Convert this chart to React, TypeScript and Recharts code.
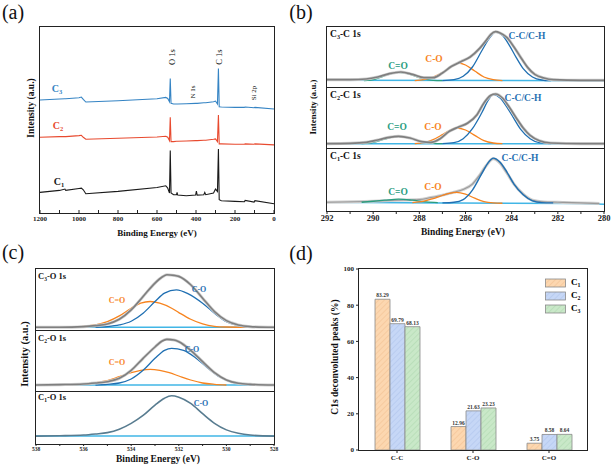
import React from 'react';
import { LineChart, Line, XAxis, YAxis, BarChart, Bar, LabelList, Legend } from 'recharts';

const FONT = '"Liberation Serif", "Times New Roman", serif';

type Pt = [number, number];

// ---- (a) survey spectra ----
const survE = [1200, 1100, 1072, 1068, 1000, 988, 978, 965, 800, 600, 555, 545, 536, 532, 528, 515, 500, 497, 494, 450, 402, 398, 394, 360, 355, 350, 310, 300, 290, 285, 281, 270, 200, 152, 148, 102, 98, 0];
const survC3 = [340, 343, 344, 344, 347, 349, 342, 334, 338, 344, 348, 345, 335, 405, 330, 328, 328, 328, 328, 329, 330, 330, 330, 332, 332, 332, 335, 337, 328, 435, 320, 319, 318, 318, 319, 317, 318, 313];
const survC2 = [228, 230, 230, 230, 233, 234, 228, 222, 225, 229, 231, 228, 218, 288, 215, 215, 216, 216, 216, 217, 218, 218, 218, 219, 219, 219, 222, 223, 215, 295, 208, 208, 207, 207, 208, 207, 208, 205];
const survC1 = [62, 68, 72, 68, 74, 75, 70, 58, 65, 77, 82, 75, 60, 188, 60, 55, 55, 62, 54, 52, 54, 66, 54, 55, 62, 55, 60, 72, 65, 193, 40, 37, 35, 34, 38, 33, 37, 28];
const survTicks = [0, 100, 200, 300, 400, 500, 600, 700, 800, 900, 1000, 1100, 1200];

// ---- (b) C 1s ----
const bTicks = [280, 281, 282, 283, 284, 285, 286, 287, 288, 289, 290, 291, 292];

const bC3Base: Pt[] = [[292, 20], [280, 19]];
const bC3Env: Pt[] = [[292, 22], [291, 22], [290.3, 24], [289.8, 30], [289.3, 40], [288.8, 45], [288.3, 38], [287.8, 28], [287.4, 28], [287, 42], [286.6, 62], [286.2, 76], [285.8, 90], [285.4, 115], [285.1, 140], [284.9, 158], [284.7, 166], [284.5, 162], [284.2, 148], [283.9, 120], [283.6, 88], [283.3, 58], [283, 38], [282.6, 27], [282.2, 22], [281, 20], [280, 20]];
const bC3CC: Pt[] = [[287, 19], [286.5, 22], [286.1, 32], [285.7, 60], [285.3, 108], [285, 143], [284.7, 165], [284.4, 155], [284.1, 125], [283.8, 88], [283.5, 55], [283.1, 30], [282.7, 21], [282.3, 19]];
const bC3CO: Pt[] = [[288.2, 19], [287.8, 22], [287.4, 30], [287, 43], [286.6, 62], [286.3, 72], [286, 66], [285.6, 48], [285.2, 30], [284.8, 22], [284.4, 19]];
const bC3CdO: Pt[] = [[290.4, 19], [289.9, 24], [289.4, 36], [288.9, 44], [288.4, 38], [287.9, 26], [287.4, 20], [287, 19]];

const bC2Base: Pt[] = [[292, 13], [280, 13]];
const bC2Env: Pt[] = [[292, 13], [291, 14], [290.3, 17], [289.8, 24], [289.3, 32], [288.9, 35], [288.4, 30], [287.9, 19], [287.5, 17], [287.1, 28], [286.7, 50], [286.3, 63], [285.9, 75], [285.5, 100], [285.2, 135], [284.9, 158], [284.7, 162], [284.4, 150], [284.1, 122], [283.8, 90], [283.5, 60], [283.2, 38], [282.8, 22], [282.3, 15], [281, 13], [280, 13]];
const bC2CC: Pt[] = [[287, 13], [286.5, 16], [286.1, 28], [285.7, 58], [285.3, 105], [285, 145], [284.8, 160], [284.5, 150], [284.2, 122], [283.9, 88], [283.6, 55], [283.2, 28], [282.8, 16], [282.3, 13]];
const bC2CO: Pt[] = [[288.2, 13], [287.8, 16], [287.4, 25], [287, 40], [286.7, 52], [286.4, 60], [286, 54], [285.6, 38], [285.2, 22], [284.8, 15], [284.4, 13]];
const bC2CdO: Pt[] = [[290.5, 13], [290, 17], [289.5, 27], [288.9, 35], [288.4, 29], [287.9, 19], [287.4, 14], [287, 13]];

const bC1Base: Pt[] = [[292, 26], [287, 24], [281, 22], [280, 20]];
const bC1Env: Pt[] = [[292, 26], [290, 29], [289, 32], [288, 34], [287.5, 40], [287, 47], [286.5, 56], [286.1, 64], [285.7, 80], [285.4, 105], [285.1, 135], [284.8, 155], [284.5, 142], [284.2, 112], [283.9, 80], [283.5, 50], [283.1, 32], [282.6, 27], [282, 26], [281, 24], [280.2, 22]];
const bC1CC: Pt[] = [[287, 24], [286.5, 26], [286.1, 34], [285.7, 62], [285.3, 110], [285, 145], [284.8, 157], [284.5, 145], [284.2, 115], [283.9, 80], [283.5, 48], [283.1, 30], [282.7, 25], [282.2, 24]];
const bC1CO: Pt[] = [[288.3, 25], [287.8, 29], [287.4, 37], [287, 46], [286.7, 52], [286.4, 55], [286, 50], [285.6, 38], [285.2, 28], [284.8, 24], [284.4, 23]];
const bC1CdO: Pt[] = [[290.5, 26], [290, 29], [289.5, 32], [288.9, 35], [288.3, 32], [287.7, 27], [287.2, 25]];

// ---- (c) O 1s ----
const cTicks = [528, 529, 530, 531, 532, 533, 534, 535, 536, 537, 538];

const cC3Base: Pt[] = [[538, 8], [528, 8]];
const cC3Env: Pt[] = [[538, 8], [537, 8], [536, 10], [535.5, 13], [535, 18], [534.5, 32], [534, 60], [533.5, 100], [533, 140], [532.7, 158], [532.5, 165], [532.2, 163], [532, 160], [531.5, 135], [531, 95], [530.5, 55], [530, 28], [529.5, 15], [529, 10], [528, 8]];
const cC3CO: Pt[] = [[535.5, 8], [535, 10], [534.5, 15], [534, 26], [533.5, 50], [533, 85], [532.6, 110], [532.1, 120], [531.6, 108], [531, 80], [530.5, 50], [530, 25], [529.5, 13], [529, 9], [528, 8]];
const cC3CdO: Pt[] = [[537, 8], [536.5, 9], [536, 11], [535.5, 15], [535, 25], [534.5, 42], [534, 65], [533.6, 80], [533.2, 85], [532.8, 80], [532.3, 65], [532, 52], [531.5, 32], [531, 18], [530.5, 11], [530, 9], [529, 8]];

const cC2Base: Pt[] = [[538, 18], [528, 18]];
const cC2Env: Pt[] = [[538, 18], [537, 19], [536, 21], [535.5, 24], [535, 28], [534.5, 38], [534, 62], [533.5, 98], [533, 132], [532.7, 150], [532.5, 155], [532.2, 153], [532, 148], [531.5, 122], [531, 88], [530.5, 55], [530, 33], [529.5, 23], [529, 20], [528, 18]];
const cC2CO: Pt[] = [[535.5, 18], [535, 20], [534.5, 24], [534, 36], [533.5, 62], [533, 98], [532.6, 122], [532.3, 128], [531.8, 122], [531.3, 100], [530.8, 70], [530.3, 43], [529.8, 27], [529.3, 20], [528.5, 18]];
const cC2CdO: Pt[] = [[537, 18], [536.5, 19], [536, 21], [535.5, 25], [535, 31], [534.5, 43], [534, 55], [533.6, 62], [533.2, 65], [532.8, 62], [532.4, 55], [532, 45], [531.5, 33], [531, 24], [530.5, 20], [530, 18]];

const cC1Base: Pt[] = [[538, 23], [528, 23]];
const cC1CO: Pt[] = [[538, 23], [537, 24], [536, 26], [535.5, 29], [535, 33], [534.5, 43], [534, 60], [533.5, 83], [533, 113], [532.6, 133], [532.3, 140], [532, 136], [531.5, 118], [531, 88], [530.5, 60], [530, 41], [529.5, 31], [529, 26], [528, 23]];

// ---- (d) C1s deconvoluted peaks ----
const peakCats = ['C-C', 'C-O', 'C=O'];
const pctC1 = [83.29, 12.96, 3.75];
const pctC2 = [69.79, 21.63, 8.58];
const pctC3 = [68.13, 23.23, 8.64];
const pctTicks = [0, 20, 40, 60, 80, 100];

const BLUE = '#1f6fb2';
const ORANGE = '#f7841f';
const TEAL = '#2a9d7f';
const CYAN = '#41b6e6';
const GRAY = '#7f7f7f';

type Curve = { pts: Pt[]; color: string; width: number; halo?: boolean };

const Sub = ({ c }: { c: string }) => (
  <span style={{ fontSize: '0.65em', verticalAlign: '-0.3em' }}>{c}</span>
);

const Txt = ({ x, y, size, color = '#111', bold = true, rot = false, start = false, children }: any) => (
  <div
    style={{
      position: 'absolute',
      left: x,
      top: y,
      transform: `translate(${start ? '0' : '-50%'}, -50%)${rot ? ' rotate(-90deg)' : ''}`,
      fontSize: size,
      color,
      fontWeight: bold ? 700 : 400,
      whiteSpace: 'nowrap',
      lineHeight: 1,
    }}
  >
    {children}
  </div>
);

// plot frame drawn over each plotting area
const Frame = ({ x, y, w, h }: any) => (
  <div style={{ position: 'absolute', left: x - 0.6, top: y - 0.6, width: w + 1.2, height: h + 1.2, border: '1.2px solid #222', boxSizing: 'border-box', pointerEvents: 'none' }} />
);

const toRows = (pts: Pt[]) => pts.map(([x, y]) => ({ x, y }));

function SpecPanel({ left, top, ml, plotW, plotH, xDomain, yMax, curves, axis }: any) {
  const mt = 2;
  const mr = 10;
  const axisH = axis ? axis.height : 0;
  const mb = axis ? 0 : 2;
  return (
    <div style={{ position: 'absolute', left, top: top - mt }}>
      <LineChart width={ml + plotW + mr} height={mt + plotH + mb + axisH} margin={{ top: mt, right: mr, bottom: mb, left: ml }}>
        <XAxis
          type="number"
          dataKey="x"
          domain={xDomain}
          reversed
          allowDataOverflow
          ticks={axis ? axis.ticks : []}
          interval={0}
          tick={axis ? { fontSize: axis.fontSize, fontWeight: 700, fill: '#222' } : false}
          tickFormatter={(v: number) => (axis && v % axis.every === 0 ? String(v) : '')}
          tickLine={axis ? { stroke: '#222' } : false}
          tickSize={axis ? axis.tickSize : 0}
          tickMargin={axis ? axis.tickMargin : 0}
          height={axisH}
          axisLine={false}
        />
        <YAxis type="number" domain={[0, yMax]} allowDataOverflow hide />
        {curves.flatMap((c: Curve, i: number) => {
          const rows = toRows(c.pts);
          const out = [];
          if (c.halo) {
            out.push(
              <Line key={`h${i}`} data={rows} dataKey="y" type="monotone" stroke="#d0d0d0" strokeWidth={3} strokeLinecap="butt" dot={false} isAnimationActive={false} />
            );
          }
          out.push(
            <Line key={`l${i}`} data={rows} dataKey="y" type="monotone" stroke={c.color} strokeWidth={c.width} strokeLinecap="butt" dot={false} isAnimationActive={false} />
          );
          return out;
        })}
      </LineChart>
    </div>
  );
}

const barSeries = [
  { key: 'c1', vals: pctC1, pat: 'hatchC1', sub: '1' },
  { key: 'c2', vals: pctC2, pat: 'hatchC2', sub: '2' },
  { key: 'c3', vals: pctC3, pat: 'hatchC3', sub: '3' },
];

const barRows = peakCats.map((cat, i) => ({ cat, c1: pctC1[i], c2: pctC2[i], c3: pctC3[i] }));

const surveyRows = survE.map((e, i) => ({ x: e, c1: survC1[i], c2: survC2[i], c3: survC3[i] }));

export default function App() {
  const bAxis = { ticks: bTicks, every: 2, fontSize: 8.5, height: 16, tickSize: 3, tickMargin: 1 };
  const cAxis = { ticks: cTicks, every: 2, fontSize: 5.5, height: 10, tickSize: 2, tickMargin: 1 };
  return (
    <div style={{ position: 'absolute', left: 0, top: 0, width: 614, height: 468, background: '#fff', fontFamily: FONT, overflow: 'hidden' }}>
      <svg width={0} height={0} style={{ position: 'absolute' }}>
        <defs>
          {[
            ['hatchC1', '#fcd7b0', '#f0bb8a'],
            ['hatchC2', '#c6d7f6', '#a9c0ea'],
            ['hatchC3', '#c9e8c8', '#a9d6a8'],
          ].map(([id, bg, ln]) => (
            <pattern key={id} id={id} patternUnits="userSpaceOnUse" width="4" height="4" patternTransform="rotate(45)">
              <rect width="4" height="4" fill={bg} />
              <line x1="0" y1="0" x2="0" y2="4" stroke={ln} strokeWidth="0.9" />
            </pattern>
          ))}
        </defs>
      </svg>

      {/* (a) survey */}
      <div style={{ position: 'absolute', left: 0, top: 25 }}>
        <LineChart width={284} height={208} data={surveyRows} margin={{ top: 2, right: 10, bottom: 0, left: 40 }}>
          <XAxis
            type="number"
            dataKey="x"
            domain={[0, 1200]}
            reversed
            ticks={survTicks}
            interval={0}
            tickFormatter={(v: number) => (v % 200 === 0 ? String(v) : '')}
            tick={{ fontSize: 7, fontWeight: 700, fill: '#222' }}
            tickSize={-3}
            tickMargin={6}
            height={20}
            axisLine={false}
            tickLine={{ stroke: '#222' }}
          />
          <YAxis type="number" domain={[0, 560]} hide />
          <Line dataKey="c1" type="linear" stroke="#1a1a1a" strokeWidth={1.1} strokeLinecap="butt" dot={false} isAnimationActive={false} />
          <Line dataKey="c2" type="linear" stroke="#e84a2f" strokeWidth={1.1} strokeLinecap="butt" dot={false} isAnimationActive={false} />
          <Line dataKey="c3" type="linear" stroke="#3584c4" strokeWidth={1.1} strokeLinecap="butt" dot={false} isAnimationActive={false} />
        </LineChart>
      </div>

      {/* (b) C 1s */}
      <SpecPanel left={300} top={27} ml={27} plotW={277} plotH={60} xDomain={[280, 292]} yMax={180}
        curves={[
          { pts: bC3Base, color: CYAN, width: 1.5 },
          { pts: bC3CdO, color: TEAL, width: 1.3 },
          { pts: bC3CO, color: ORANGE, width: 1.3 },
          { pts: bC3CC, color: BLUE, width: 1.3 },
          { pts: bC3Env, color: GRAY, width: 1.7, halo: true },
        ]} />
      <SpecPanel left={300} top={88} ml={27} plotW={277} plotH={60} xDomain={[280, 292]} yMax={180}
        curves={[
          { pts: bC2Base, color: CYAN, width: 1.5 },
          { pts: bC2CdO, color: TEAL, width: 1.3 },
          { pts: bC2CO, color: ORANGE, width: 1.3 },
          { pts: bC2CC, color: BLUE, width: 1.3 },
          { pts: bC2Env, color: GRAY, width: 1.7, halo: true },
        ]} />
      <SpecPanel left={300} top={149} ml={27} plotW={277} plotH={62} xDomain={[280, 292]} yMax={184} axis={bAxis}
        curves={[
          { pts: bC1Base, color: CYAN, width: 1.5 },
          { pts: bC1Env, color: '#9a9a9a', width: 1.1, halo: true },
          { pts: bC1CdO, color: TEAL, width: 1.3 },
          { pts: bC1CO, color: ORANGE, width: 1.3 },
          { pts: bC1CC, color: BLUE, width: 1.4 },
        ]} />

      {/* (c) O 1s */}
      <SpecPanel left={0} top={269} ml={36} plotW={238} plotH={61} xDomain={[528, 538]} yMax={182}
        curves={[
          { pts: cC3Base, color: CYAN, width: 1.5 },
          { pts: cC3CdO, color: ORANGE, width: 1.3 },
          { pts: cC3CO, color: BLUE, width: 1.3 },
          { pts: cC3Env, color: GRAY, width: 1.6, halo: true },
        ]} />
      <SpecPanel left={0} top={331} ml={36} plotW={238} plotH={60} xDomain={[528, 538]} yMax={180}
        curves={[
          { pts: cC2Base, color: CYAN, width: 1.5 },
          { pts: cC2CdO, color: ORANGE, width: 1.3 },
          { pts: cC2CO, color: BLUE, width: 1.3 },
          { pts: cC2Env, color: GRAY, width: 1.6, halo: true },
        ]} />
      <SpecPanel left={0} top={392} ml={36} plotW={238} plotH={52} xDomain={[528, 538]} yMax={151} axis={cAxis}
        curves={[
          { pts: cC1Base, color: CYAN, width: 1.5 },
          { pts: cC1CO, color: '#587c90', width: 1.6 },
        ]} />

      {/* (d) bars */}
      <div style={{ position: 'absolute', left: 300, top: 265 }}>
        <BarChart width={292} height={201} data={barRows} margin={{ top: 4, right: 5, bottom: 0, left: 29 }} barGap={0} barSize={15}>
          <XAxis dataKey="cat" height={16} tick={{ fontSize: 7, fontWeight: 700, fill: '#222' }} tickSize={3} tickMargin={2} axisLine={false} tickLine={{ stroke: '#222' }} />
          <YAxis domain={[0, 100]} ticks={pctTicks} width={30} tick={{ fontSize: 7, fontWeight: 700, fill: '#222' }} tickSize={3} tickMargin={2} axisLine={false} tickLine={{ stroke: '#222' }} />
          <Legend
            layout="vertical"
            align="center"
            verticalAlign="middle"
            wrapperStyle={{ left: 245, top: 11, width: 40 }}
            content={() => (
              <div>
                {barSeries.map((s) => (
                  <div key={s.key} style={{ display: 'flex', alignItems: 'center', height: 13, fontSize: 9, fontWeight: 700 }}>
                    <svg width={22} height={10}>
                      <rect x={0.5} y={1} width={20} height={8} fill={`url(#${s.pat})`} stroke="#8a8a8a" strokeWidth={0.8} />
                    </svg>
                    <span style={{ marginLeft: 4 }}>
                      C<Sub c={s.sub} />
                    </span>
                  </div>
                ))}
              </div>
            )}
          />
          {barSeries.map((s) => (
            <Bar key={s.key} dataKey={s.key} fill={`url(#${s.pat})`} stroke="#8a8a8a" strokeWidth={0.8} isAnimationActive={false}>
              <LabelList dataKey={s.key} position="top" offset={2} formatter={(v: any) => Number(v).toFixed(2)} style={{ fontSize: 5.5, fontWeight: 700, fill: '#333' }} />
            </Bar>
          ))}
        </BarChart>
      </div>

      {/* frames */}
      <Frame x={40} y={27} w={234} h={186} />
      <Frame x={327} y={27} w={277} h={60} />
      <Frame x={327} y={88} w={277} h={60} />
      <Frame x={327} y={149} w={277} h={62} />
      <Frame x={36} y={269} w={238} h={61} />
      <Frame x={36} y={331} w={238} h={60} />
      <Frame x={36} y={392} w={238} h={52} />
      <Frame x={359} y={269} w={228} h={181} />

      {/* panel letters */}
      <Txt x={13} y={12} size={20} bold={false}>(a)</Txt>
      <Txt x={301} y={12} size={20} bold={false}>(b)</Txt>
      <Txt x={13} y={252} size={20} bold={false}>(c)</Txt>
      <Txt x={301} y={253} size={20} bold={false}>(d)</Txt>

      {/* (a) texts */}
      <Txt x={32} y={108} size={9.5} rot>Intensity (a.u.)</Txt>
      <Txt x={157} y={233} size={9}>Binding Energy (eV)</Txt>
      <Txt x={57} y={90} size={10} color="#3584c4">C<Sub c="3" /></Txt>
      <Txt x={58} y={127} size={10} color="#e84a2f">C<Sub c="2" /></Txt>
      <Txt x={59} y={183} size={10} color="#1a1a1a">C<Sub c="1" /></Txt>
      <Txt x={172} y={57} size={8.5} rot bold={false}>O 1s</Txt>
      <Txt x={219} y={57} size={8.5} rot bold={false}>C 1s</Txt>
      <Txt x={193} y={92} size={7} rot bold={false}>N 1s</Txt>
      <Txt x={254} y={93} size={7} rot bold={false}>Si 2p</Txt>

      {/* (b) texts */}
      <Txt x={313} y={107} size={8.8} rot>Intensity (a.u.)</Txt>
      <Txt x={463} y={233} size={9.5}>Binding Energy (eV)</Txt>
      <Txt x={330} y={35} size={9.5} start>C<Sub c="3" />-C 1s</Txt>
      <Txt x={330} y={96} size={9.5} start>C<Sub c="2" />-C 1s</Txt>
      <Txt x={330} y={157} size={9.5} start>C<Sub c="1" />-C 1s</Txt>
      <Txt x={398} y={67} size={9.5} color={TEAL}>C=O</Txt>
      <Txt x={434} y={60} size={9.5} color={ORANGE}>C-O</Txt>
      <Txt x={527} y={37} size={9.5} color={BLUE}>C-C/C-H</Txt>
      <Txt x={397} y={128} size={9.5} color={TEAL}>C=O</Txt>
      <Txt x={433} y={128} size={9.5} color={ORANGE}>C-O</Txt>
      <Txt x={523} y={99} size={9.5} color={BLUE}>C-C/C-H</Txt>
      <Txt x={398} y={193} size={9.5} color={TEAL}>C=O</Txt>
      <Txt x={433} y={188} size={9.5} color={ORANGE}>C-O</Txt>
      <Txt x={520} y={159} size={9.5} color={BLUE}>C-C/C-H</Txt>

      {/* (c) texts */}
      <Txt x={25} y={354} size={10.5} rot>Intensity (a.u.)</Txt>
      <Txt x={158} y={460} size={9.5}>Binding Energy (eV)</Txt>
      <Txt x={38} y={277} size={8.5} start>C<Sub c="3" />-O 1s</Txt>
      <Txt x={38} y={339} size={8.5} start>C<Sub c="2" />-O 1s</Txt>
      <Txt x={38} y={398} size={8.5} start>C<Sub c="1" />-O 1s</Txt>
      <Txt x={117} y={301} size={8} color={ORANGE}>C=O</Txt>
      <Txt x={199} y={290} size={8} color={BLUE}>C-O</Txt>
      <Txt x={117} y={363} size={8} color={ORANGE}>C=O</Txt>
      <Txt x={192} y={350} size={8} color={BLUE}>C-O</Txt>
      <Txt x={201} y={404} size={8} color={BLUE}>C-O</Txt>

      {/* (d) texts */}
      <Txt x={336} y={357} size={9.5} rot>C1s deconvoluted peaks (%)</Txt>
    </div>
  );
}
